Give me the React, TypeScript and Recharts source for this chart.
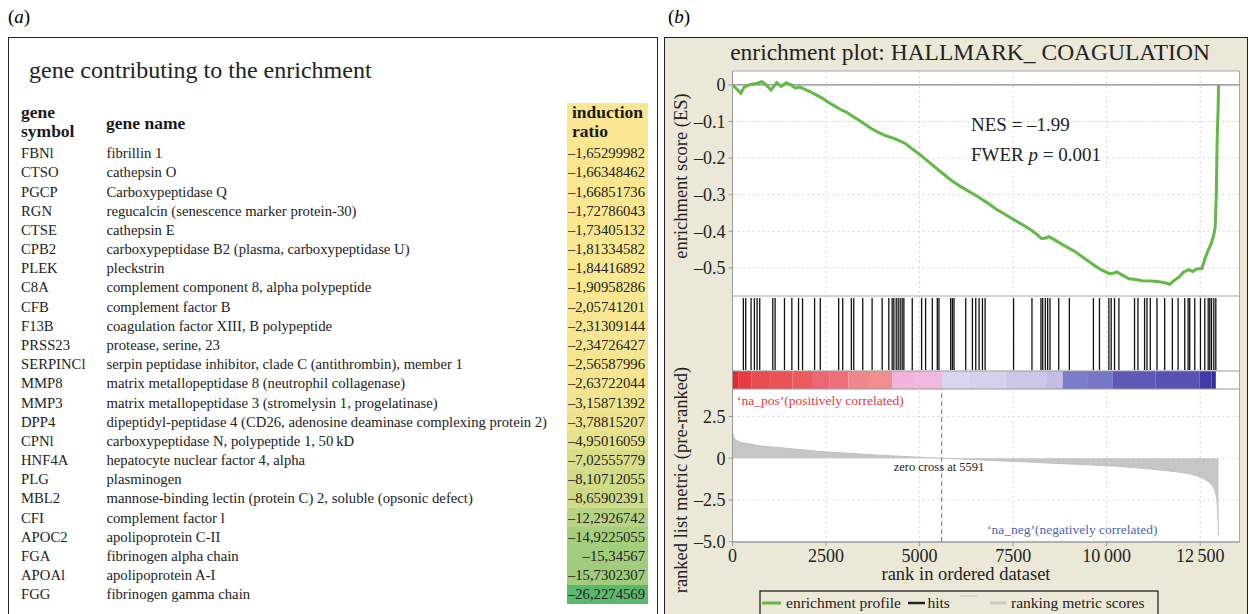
import React from 'react';
import { ComposedChart, Line, Area, XAxis, YAxis, CartesianGrid, ReferenceLine, ReferenceArea } from 'recharts';

const serif = "'Liberation Serif', 'DejaVu Serif', 'Times New Roman', serif";

// ---- panel (a): table ----
const geneSymbols = [
  'FBNl', 'CTSO', 'PGCP', 'RGN', 'CTSE', 'CPB2', 'PLEK', 'C8A', 'CFB', 'F13B', 'PRSS23', 'SERPINCl',
  'MMP8', 'MMP3', 'DPP4', 'CPNl', 'HNF4A', 'PLG', 'MBL2', 'CFI', 'APOC2', 'FGA', 'APOAl', 'FGG',
];
const geneNames = [
  'fibrillin 1',
  'cathepsin O',
  'Carboxypeptidase Q',
  'regucalcin (senescence marker protein-30)',
  'cathepsin E',
  'carboxypeptidase B2 (plasma, carboxypeptidase U)',
  'pleckstrin',
  'complement component 8, alpha polypeptide',
  'complement factor B',
  'coagulation factor XIII, B polypeptide',
  'protease, serine, 23',
  'serpin peptidase inhibitor, clade C (antithrombin), member 1',
  'matrix metallopeptidase 8 (neutrophil collagenase)',
  'matrix metallopeptidase 3 (stromelysin 1, progelatinase)',
  'dipeptidyl-peptidase 4 (CD26, adenosine deaminase complexing protein 2)',
  'carboxypeptidase N, polypeptide 1, 50\u2009kD',
  'hepatocyte nuclear factor 4, alpha',
  'plasminogen',
  'mannose-binding lectin (protein C) 2, soluble (opsonic defect)',
  'complement factor l',
  'apolipoprotein C-II',
  'fibrinogen alpha chain',
  'apolipoprotein A-I',
  'fibrinogen gamma chain',
];
const inductionRatios = [
  '–1,65299982', '–1,66348462', '–1,66851736', '–1,72786043', '–1,73405132', '–1,81334582',
  '–1,84416892', '–1,90958286', '–2,05741201', '–2,31309144', '–2,34726427', '–2,56587996',
  '–2,63722044', '–3,15871392', '–3,78815207', '–4,95016059', '–7,02555779', '–8,10712055',
  '–8,65902391', '–12,2926742', '–14,9225055', '–15,34567', '–15,7302307', '–26,2274569',
];

// ---- panel (b): GSEA enrichment plot ----
const esRanks = [
  0, 120, 222, 300, 374, 500, 650, 778, 900, 1030, 1182, 1300, 1434, 1560, 1687, 1800, 1940, 2100,
  2250, 2394, 2550, 2700, 2900, 3050, 3202, 3400, 3550, 3707, 3900, 4100, 4313, 4450, 4616, 4800,
  5000, 5121, 5300, 5500, 5727, 5900, 6100, 6333, 6550, 6838, 7050, 7300, 7545, 7800, 8000, 8151,
  8252, 8350, 8454, 8600, 8757, 8950, 9161, 9400, 9666, 9850, 10070, 10200, 10272, 10450, 10600,
  10777, 10950, 11181, 11400, 11550, 11686, 11800, 11938, 12050, 12191, 12300, 12400, 12544, 12645,
  12720, 12797, 12860, 12898, 12930, 12949, 12965, 12979, 12990,
];
const esScores = [
  0, -0.012, -0.023, -0.008, -0.003, 0.002, 0.004, 0.009, 0.0, -0.014, 0.006, -0.004, 0.006, 0.0,
  -0.009, -0.006, -0.012, -0.02, -0.028, -0.036, -0.047, -0.056, -0.068, -0.075, -0.085, -0.098,
  -0.108, -0.119, -0.13, -0.139, -0.146, -0.152, -0.16, -0.175, -0.19, -0.2, -0.215, -0.232, -0.251,
  -0.265, -0.278, -0.292, -0.305, -0.324, -0.34, -0.355, -0.37, -0.385, -0.398, -0.41, -0.42, -0.419,
  -0.415, -0.423, -0.433, -0.444, -0.456, -0.474, -0.493, -0.505, -0.516, -0.514, -0.511, -0.522,
  -0.53, -0.532, -0.535, -0.536, -0.538, -0.541, -0.545, -0.535, -0.525, -0.512, -0.505, -0.51,
  -0.503, -0.502, -0.47, -0.45, -0.433, -0.41, -0.392, -0.3, -0.169, -0.11, -0.064, 0,
];
const hitRanks = [
  290, 353, 496, 585, 657, 728, 1077, 1139, 1389, 1586, 1765, 1872, 2194, 2346, 2837, 2945, 3177,
  3240, 3481, 3731, 4000, 4178, 4267, 4312, 4375, 4428, 4482, 4535, 4580, 4804, 5054, 5161, 5340,
  5474, 5518, 5831, 5876, 5920, 6233, 6412, 6501, 6590, 6680, 6751, 7512, 8003, 8244, 8290, 8360,
  8423, 8485, 8718, 9003, 9646, 9807, 10059, 10121, 10210, 10327, 10745, 10836, 11013, 11077, 11166,
  11345, 11550, 11756, 11909, 12086, 12177, 12220, 12354, 12507, 12622, 12713, 12756, 12802, 12864,
  12917,
];
const metricRanks = [
  0, 30, 71, 150, 222, 400, 677, 1000, 1384, 1800, 2293, 2800, 3303, 3800, 4313, 5020, 5591, 6100,
  6636, 7100, 7646, 8100, 8656, 9200, 9666, 10200, 10676, 11100, 11484, 11850, 12191, 12400, 12595,
  12700, 12797, 12850, 12898, 12930, 12949, 12965, 12979, 12990,
];
const metricScores = [
  1.55, 1.3, 1.13, 1.02, 0.96, 0.88, 0.76, 0.68, 0.61, 0.52, 0.41, 0.34, 0.27, 0.2, 0.14, 0.06, 0,
  -0.05, -0.1, -0.15, -0.2, -0.25, -0.31, -0.36, -0.41, -0.47, -0.55, -0.63, -0.72, -0.81, -0.92,
  -1.05, -1.23, -1.37, -1.54, -1.72, -1.95, -2.3, -2.56, -3.1, -3.8, -4.6,
];
const barStops = [
  0, 150, 500, 1000, 1600, 2150, 2600, 3100, 3700, 4267, 4900, 5600, 6300, 7300, 8380, 8826, 9500,
  10166, 11300, 12487, 12800, 12917,
];
const barColors = [
  '#e22a34', '#e63c42', '#e84b50', '#e95357', '#ea5a5e', '#ec6776', '#ed6f7c', '#f0878a', '#f18e8e',
  '#f2b4dd', '#f0b9e0', '#d8d5ef', '#d4d1ec', '#cdc6e8', '#c6bde4', '#7b7dca', '#7577c6', '#5f58b6',
  '#5a52b2', '#3f3ba8', '#2f2e9e',
];
const rankTicks = [0, 2500, 5000, 7500, 10000, 12500];
const esTicks = [0, -0.1, -0.2, -0.3, -0.4, -0.5];
const metricTicks = [2.5, 0, -2.5, -5];
const zeroCross = 5591;

const RANK_MAX = 13550;
const ES_DOMAIN: [number, number] = [-0.577, 0.038];
// lower panel shares one y scale: ranked metric at the bottom, colour bar and hits stacked above it
const METRIC_TOP = 4.15;
const BAR_TOP = 5.23;
const HIT_LOW = 5.29;
const HIT_HIGH = 9.6;
const LOWER_DOMAIN: [number, number] = [-5.02, 9.724];

const esData = esRanks.map((r, i) => ({ rank: r, es: esScores[i] }));
const metricData = metricRanks.map((r, i) => ({ rank: r, metric: metricScores[i] }));

const ratioValues = inductionRatios.map((s) => parseFloat(s.replace('–', '-').replace(',', '.')));
const vMax = Math.max(...ratioValues);
const vMin = Math.min(...ratioValues);
const yellow = [251, 231, 146];
const green = [92, 184, 108];
const cellColor = (v: number) => {
  const t = (v - vMax) / (vMin - vMax);
  const c = yellow.map((y, k) => Math.round(y + (green[k] - y) * t));
  return `rgb(${c[0]},${c[1]},${c[2]})`;
};

const dashFmt = (v: number) => (v === 0 ? '0' : v < 0 ? '–' + String(Math.abs(v)) : String(v));
const metricFmt = (v: number) => (v === -5 ? '–5.0' : dashFmt(v));
const rankFmt = (v: number) =>
  v >= 10000 ? `${Math.floor(v / 1000)}\u2009${String(v % 1000).padStart(3, '0')}` : String(v);

const tickStyle = { fontSize: 18, fontFamily: serif, fill: '#222' };
const BEIGE = '#ebe8d8';

const T = ({ x, y, size, children, anchor = 'start', color = '#222', weight = 'normal', rotate = false }: any) => (
  <text
    x={x}
    y={y}
    fontSize={size}
    fontFamily={serif}
    fill={color}
    fontWeight={weight}
    textAnchor={anchor}
    dominantBaseline="central"
    transform={rotate ? `rotate(-90 ${x} ${y})` : undefined}
  >
    {children}
  </text>
);

const ROW_Y0 = 153.3;
const ROW_STEP = 19.17;

const TablePanel = () => (
  <>
    <div style={{ position: 'absolute', left: 8, top: 4, fontSize: 19, fontFamily: serif, lineHeight: '26px' }}>
      (<i>a</i>)
    </div>
    <div
      style={{
        position: 'absolute', left: 8, top: 37, width: 650, height: 620,
        border: '1.3px solid #222', boxSizing: 'border-box', background: '#fff',
      }}
    />
    <div style={{ position: 'absolute', left: 29, top: 55, fontSize: 24, fontFamily: serif, lineHeight: '30px', color: '#222' }}>
      gene contributing to the enrichment
    </div>
    <div style={{ position: 'absolute', left: 567, top: 103, width: 81, height: ROW_Y0 - ROW_STEP / 2 - 103, background: cellColor(vMax) }} />
    {[
      ['gene', 21, 112.5], ['symbol', 21, 131], ['gene name', 106, 123], ['induction', 572, 112.5], ['ratio', 572, 131],
    ].map(([s, x, y]) => (
      <div
        key={String(s) + y}
        style={{
          position: 'absolute', left: x as number, top: (y as number) - 8.5, lineHeight: '17px', height: 17,
          fontSize: 17.5, fontWeight: 'bold', fontFamily: serif, color: '#1a1a1a', whiteSpace: 'nowrap',
        }}
      >
        {s}
      </div>
    ))}
    {geneSymbols.map((sym, i) => {
      const y = ROW_Y0 + i * ROW_STEP;
      const rowText = { position: 'absolute' as const, top: y - 9, lineHeight: '18px', height: 18, fontSize: 14.7, fontFamily: serif, color: '#222', whiteSpace: 'nowrap' as const };
      return (
        <React.Fragment key={sym}>
          <div style={{ position: 'absolute', left: 567, top: y - ROW_STEP / 2, width: 81, height: ROW_STEP + 0.5, background: cellColor(ratioValues[i]) }} />
          <div style={{ ...rowText, left: 21 }}>{sym}</div>
          <div style={{ ...rowText, left: 106.5 }}>{geneNames[i]}</div>
          <div style={{ ...rowText, left: 560, width: 85, textAlign: 'right' }}>{inductionRatios[i]}</div>
        </React.Fragment>
      );
    })}
  </>
);

const GseaPanel = () => (
  <>
    <div style={{ position: 'absolute', left: 668, top: 4, fontSize: 19, fontFamily: serif, lineHeight: '26px' }}>
      (<i>b</i>)
    </div>
    <div
      style={{
        position: 'absolute', left: 664, top: 37, width: 584, height: 620,
        border: '1.3px solid #222', boxSizing: 'border-box', background: BEIGE,
      }}
    />

    {/* running enrichment score */}
    <div style={{ position: 'absolute', left: 664, top: 60, fontFamily: serif }}>
      <ComposedChart width={585} height={240} data={esData} margin={{ top: 11, right: 9.5, bottom: 4, left: 8.5 }}>
        <CartesianGrid fill="#fff" stroke="#d2d2d2" strokeDasharray="2 3" horizontalValues={esTicks} verticalValues={rankTicks} />
        <XAxis type="number" dataKey="rank" domain={[0, RANK_MAX]} ticks={rankTicks} hide allowDataOverflow />
        <YAxis
          type="number" domain={ES_DOMAIN} ticks={esTicks} interval={0} width={60} allowDataOverflow
          tick={tickStyle} tickFormatter={dashFmt} tickSize={4} tickMargin={3}
          axisLine={{ stroke: '#999' }} tickLine={{ stroke: '#999' }}
        />
        <ReferenceArea x1={0} x2={RANK_MAX} y1={ES_DOMAIN[0]} y2={ES_DOMAIN[1]} fill="none" stroke="#a8a8a8" />
        <ReferenceLine y={0} stroke="#888" strokeWidth={1.2} />
        <Line type="linear" dataKey="es" stroke="#62b946" strokeWidth={3} dot={false} isAnimationActive={false} />
      </ComposedChart>
    </div>

    {/* hits, colour bar and ranked list metric */}
    <div style={{ position: 'absolute', left: 664, top: 296, fontFamily: serif }}>
      <ComposedChart width={585} height={293} data={metricData} margin={{ top: 0, right: 9.5, bottom: 0, left: 8.5 }}>
        <CartesianGrid fill="#fff" stroke="#d6d6d6" strokeDasharray="2 3" horizontalValues={metricTicks} verticalValues={rankTicks} />
        <XAxis
          type="number" dataKey="rank" domain={[0, RANK_MAX]} ticks={rankTicks} interval={0} height={47} allowDataOverflow
          tick={tickStyle} tickFormatter={rankFmt} tickSize={4} tickMargin={3}
          axisLine={{ stroke: '#999' }} tickLine={{ stroke: '#999' }}
        />
        <YAxis
          type="number" domain={LOWER_DOMAIN} ticks={metricTicks} interval={0} width={60} allowDataOverflow
          tick={tickStyle} tickFormatter={metricFmt} tickSize={4} tickMargin={3}
          axisLine={{ stroke: '#999' }} tickLine={{ stroke: '#999' }}
        />
        <Area type="linear" dataKey="metric" baseValue={0} fill="#c6c6c6" fillOpacity={1} stroke="#c0c0c0" strokeWidth={1} isAnimationActive={false} />
        <ReferenceLine segment={[{ x: zeroCross, y: LOWER_DOMAIN[0] }, { x: zeroCross, y: METRIC_TOP }]} stroke="#777" strokeDasharray="5 3" />
        {barColors.map((c, i) => (
          <ReferenceArea key={c} x1={barStops[i]} x2={barStops[i + 1]} y1={METRIC_TOP} y2={BAR_TOP} fill={c} fillOpacity={1} stroke="none" />
        ))}
        {hitRanks.map((h) => (
          <ReferenceLine key={h} segment={[{ x: h, y: HIT_LOW }, { x: h, y: HIT_HIGH }]} stroke="#111" strokeWidth={1.3} />
        ))}
        <ReferenceLine y={METRIC_TOP} stroke="#9a9a9a" />
        <ReferenceLine y={BAR_TOP} stroke="#9a9a9a" />
        <ReferenceArea x1={0} x2={RANK_MAX} y1={LOWER_DOMAIN[0]} y2={LOWER_DOMAIN[1]} fill="none" stroke="#a8a8a8" />
      </ComposedChart>
    </div>

    {/* text overlay */}
    <svg width={1249} height={614} style={{ position: 'absolute', left: 0, top: 0, pointerEvents: 'none' }}>
      <T x={970} y={52} size={23.5} anchor="middle">enrichment plot: HALLMARK_ COAGULATION</T>
      <T x={971} y={124} size={19}>NES = –1.99</T>
      <text x={971} y={154} fontSize={19} fontFamily={serif} fill="#222" dominantBaseline="central">
        FWER <tspan fontStyle="italic">p</tspan> = 0.001
      </text>
      <T x={681} y={176} size={18.5} anchor="middle" rotate>enrichment score (ES)</T>
      <T x={681} y={480} size={18.5} anchor="middle" rotate>ranked list metric (pre-ranked)</T>
      <T x={737} y={400} size={13.5} color="#e03c3c">‘na_pos’(positively correlated)</T>
      <T x={939} y={467} size={12.5} anchor="middle" color="#222">zero cross at 5591</T>
      <T x={987} y={529} size={13.5} color="#4f5fb5">‘na_neg’(negatively correlated)</T>
      <T x={966} y={574} size={18.5} anchor="middle">rank in ordered dataset</T>

      <rect x={760} y={591} width={398} height={30} fill={BEIGE} stroke="#222" strokeWidth={1.3} />
      <line x1={762} x2={781} y1={603} y2={603} stroke="#62b946" strokeWidth={3} />
      <T x={786} y={602} size={15.5}>enrichment profile</T>
      <line x1={908} x2={925} y1={603} y2={603} stroke="#222" strokeWidth={2.5} />
      <T x={927.5} y={602} size={15.5}>hits</T>
      <line x1={960} x2={977} y1={596} y2={596} stroke="#d0d0d0" strokeWidth={1.5} />
      <line x1={990} x2={1006} y1={603} y2={603} stroke="#c8c8c8" strokeWidth={3} />
      <T x={1011} y={602} size={15.5}>ranking metric scores</T>
    </svg>
  </>
);

export default function App() {
  return (
    <div style={{ position: 'absolute', left: 0, top: 0, width: 1249, height: 614, overflow: 'hidden', background: '#fff' }}>
      <style>{`.recharts-text, .recharts-cartesian-axis-tick-value { font-family: ${serif}; }`}</style>
      <TablePanel />
      <GseaPanel />
    </div>
  );
}
